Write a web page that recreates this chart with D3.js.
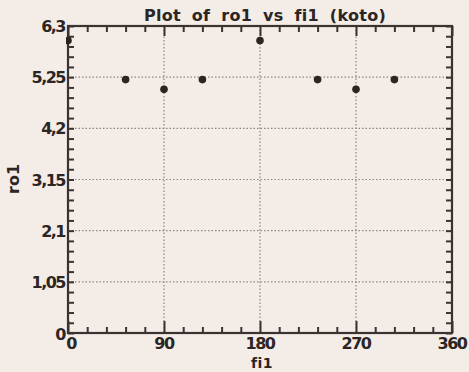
<!DOCTYPE html>
<html><head><meta charset="utf-8">
<script src="https://cdn.jsdelivr.net/npm/d3@7"></script>
<style>
html,body{margin:0;padding:0;background:#f4ece7;}
text{font-family:"DejaVu Sans",sans-serif;fill:#2b2524;font-weight:bold;}
</style></head>
<body><svg id="c" width="469" height="372"></svg>
<script>
const fiValues = [0, 54, 90, 126, 180, 234, 270, 306];
const roValues = [6.0, 5.2, 5.0, 5.2, 6.0, 5.2, 5.0, 5.2];
const xTicks = [0, 90, 180, 270, 360];
const yTicks = [0, 1.05, 2.1, 3.15, 4.2, 5.25, 6.3];
const yTickLabels = ["0", "1,05", "2,1", "3,15", "4,2", "5,25", "6,3"];
const title = "Plot of ro1 vs fi1 (koto)";

const svg = d3.select("#c");
const L = 68, R = 452, T = 26, B = 333;
const x = d3.scaleLinear().domain([0, 360]).range([L, R]);
const y = d3.scaleLinear().domain([0, 6.3]).range([B, T]);
const ink = "#3a3332";

svg.append("rect").attr("width", 469).attr("height", 372).attr("fill", "#f4ece7");

// grid
const g = svg.append("g").attr("stroke", "#8a8482").attr("stroke-width", 1.2).attr("stroke-dasharray", "1.5,2");
xTicks.slice(1, -1).forEach(v => g.append("line").attr("x1", x(v)).attr("x2", x(v)).attr("y1", T).attr("y2", B));
yTicks.slice(1, -1).forEach(v => g.append("line").attr("y1", y(v)).attr("y2", y(v)).attr("x1", L).attr("x2", R));

// axes with inward ticks
const xMinor = d3.range(0, 361, 18).filter(v => !xTicks.includes(v));
const yMinor = d3.range(0, 30).map(i => i * 0.21).filter(v => v <= 6.3 && !yTicks.some(t => Math.abs(t - v) < 1e-6));

const axB = svg.append("g").attr("transform", `translate(0,${B})`)
  .call(d3.axisBottom(x).tickValues(xTicks).tickSize(-12).tickFormat(""));
const axBm = svg.append("g").attr("transform", `translate(0,${B})`)
  .call(d3.axisBottom(x).tickValues(xMinor).tickSize(-6).tickFormat(""));
const axT = svg.append("g").attr("transform", `translate(0,${T})`)
  .call(d3.axisTop(x).tickValues(xTicks).tickSize(-10).tickFormat(""));
const axTm = svg.append("g").attr("transform", `translate(0,${T})`)
  .call(d3.axisTop(x).tickValues(xMinor).tickSize(-6).tickFormat(""));
const axL = svg.append("g").attr("transform", `translate(${L},0)`)
  .call(d3.axisLeft(y).tickValues(yTicks.concat(yMinor)).tickSize(-6).tickFormat(""));
const axR = svg.append("g").attr("transform", `translate(${R},0)`)
  .call(d3.axisRight(y).tickValues(yTicks.concat(yMinor)).tickSize(-6).tickFormat(""));
[axB, axBm, axT, axTm, axL, axR].forEach(a => {
  a.select(".domain").remove();
  a.selectAll(".tick line").attr("stroke", ink).attr("stroke-width", 2);
});
svg.append("rect").attr("x", L).attr("y", T).attr("width", R - L).attr("height", B - T)
  .attr("fill", "none").attr("stroke", ink).attr("stroke-width", 2.2);

// tick labels
svg.append("g").selectAll("text").data(xTicks).join("text")
  .attr("x", d => x(d) + (d === 0 ? 3 : 0)).attr("y", B + 16)
  .attr("text-anchor", "middle").attr("font-size", 16).attr("letter-spacing", -1.5)
  .text(d => String(d));
svg.append("g").selectAll("text").data(yTicks).join("text")
  .attr("x", L - 3).attr("y", d => y(d) + (d === 0 ? 7 : 6))
  .attr("text-anchor", "end").attr("font-size", 16).attr("letter-spacing", -1.5)
  .text((d, i) => yTickLabels[i]);

// titles
svg.append("text").attr("x", 265).attr("y", 21).attr("text-anchor", "middle")
  .attr("font-size", 16).attr("word-spacing", 5).attr("letter-spacing", 0.3).text(title);
svg.append("text").attr("x", 262).attr("y", 368).attr("text-anchor", "middle")
  .attr("font-size", 14).attr("letter-spacing", 0.5).text("fi1");
svg.append("text").attr("transform", "translate(19,179) rotate(-90)").attr("text-anchor", "middle")
  .attr("font-size", 16).text("ro1");

// points
svg.append("clipPath").attr("id", "pc").append("rect").attr("x", L - 2).attr("y", T).attr("width", R - L + 4).attr("height", B - T);
svg.append("g").attr("clip-path", "url(#pc)").selectAll("circle").data(fiValues).join("circle")
  .attr("cx", d => x(d)).attr("cy", (d, i) => y(roValues[i])).attr("r", 3.8).attr("fill", "#2a2423");
</script></body></html>
